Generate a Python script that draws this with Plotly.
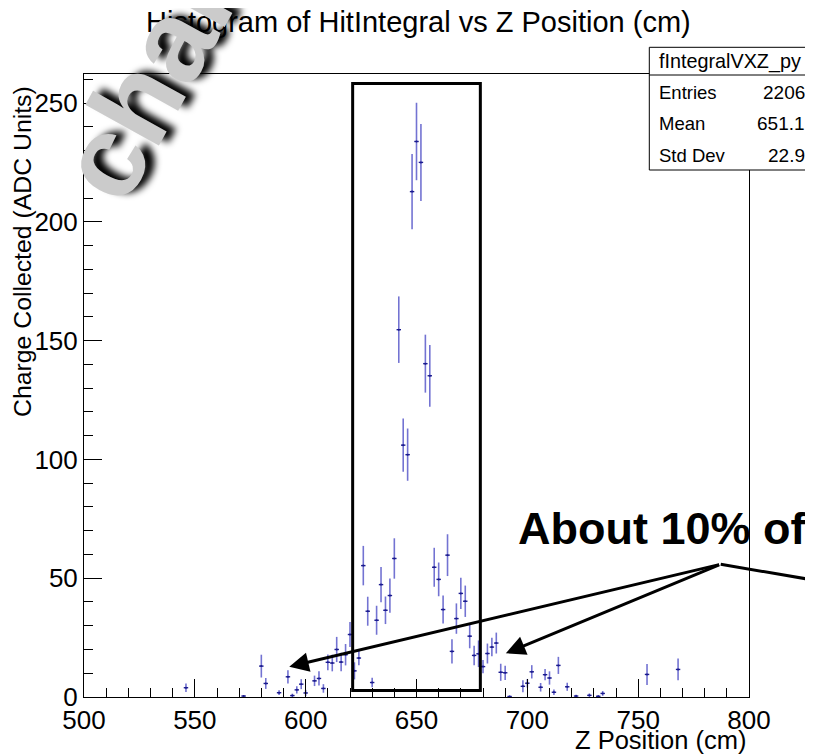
import plotly.graph_objects as go

# ---------------- data ----------------
z_centers = [546, 572, 580, 582, 588, 592, 594, 596, 598, 600,
             604, 606, 608, 610, 612, 614, 616, 618, 620, 622,
             624, 626, 628, 630, 632, 634, 636, 638, 640, 642,
             644, 646, 648, 650, 652, 654, 656, 658, 660, 662,
             664, 666, 668, 670, 672, 674, 676, 678, 680, 682,
             684, 686, 688, 690, 692, 698, 700, 702, 706, 708,
             710, 712, 714, 718, 722, 728, 732, 734, 754, 768]
charge = [3.9, 0.4, 13.0, 5.7, 1.8, 8.5, 0.6, 3.0, 5.4, 1.7,
          6.8, 7.8, 3.6, 14.6, 14.3, 20.0, 14.7, 17.8, 26.3, 11.0,
          16.4, 55.3, 36.1, 6.1, 32.3, 47.3, 36.5, 42.7, 58.3, 154.6,
          106.0, 102.0, 212.7, 233.8, 225.0, 140.3, 135.2, 54.6, 49.5, 36.8,
          59.7, 19.2, 33.0, 43.6, 40.3, 25.6, 17.5, 18.2, 12.8, 18.3,
          21.0, 22.7, 10.4, 10.2, 0.2, 4.5, 5.8, 10.6, 4.1, 9.4,
          8.0, 2.0, 13.3, 4.3, 0.4, 0.7, 0.3, 1.5, 9.5, 11.6]
charge_err = [1.8, 0.4, 4.8, 2.3, 1.0, 2.8, 0.8, 1.5, 2.1, 1.3,
              2.2, 3.0, 1.8, 3.3, 3.5, 5.3, 3.9, 4.5, 5.3, 3.6,
              3.0, 8.3, 6.1, 2.0, 6.1, 7.4, 5.8, 7.2, 8.5, 14.0,
              11.2, 11.0, 15.8, 16.3, 16.2, 12.2, 13.0, 8.2, 7.1, 5.9,
              8.8, 5.1, 6.4, 6.6, 6.6, 5.1, 4.1, 5.6, 2.8, 4.2,
              3.9, 4.4, 3.6, 3.0, 0.4, 2.5, 1.8, 2.8, 1.8, 2.4,
              2.8, 1.2, 3.6, 1.7, 0.5, 0.8, 0.4, 1.0, 4.4, 4.6]
bin_half_width = 1.0

title_text = "Histogram of HitIntegral vs Z Position (cm)"
x_title = "Z Position (cm)"
y_title = "Charge Collected (ADC Units)"
stats_name = "fIntegralVXZ_py"
stats_labels = ["Entries", "Mean", "Std Dev"]
stats_values = ["2206", "651.1", "22.9"]
callout_text = "About 10% of"
watermark_text = "chal"

# selection box and arrows (data coordinates)
box_x = [621.2, 678.8]
box_y = [2.7, 258.2]
arrow_from = (787.2, 55.85)
arrow_tips = [(592.6, 12.75), (690.3, 18.4)]

# ---------------- layout geometry ----------------
# the page body adds an 8px offset, so the figure is 8px smaller than the window
OFF = 8
W, H = 813 - OFF, 754 - OFF
L, R, T, B = 76, 64, 66, 57
PW, PH = W - L - R, H - T - B


def px(xs):  # screen x -> paper x
    return (xs - OFF - L) / PW


def py(ys):  # screen y -> paper y
    return (H - B - (ys - OFF)) / PH


FONT = "Liberation Sans"

fig = go.Figure()
fig.add_trace(go.Scatter(
    x=z_centers, y=charge, mode="markers",
    marker=dict(size=2, color="#1b1b8f"),
    error_y=dict(type="data", array=charge_err, color="#7373d2",
                 thickness=1.6, width=0),
    error_x=dict(type="constant", value=bin_half_width, color="#1b1b8f",
                 thickness=1.4, width=0),
    showlegend=False, hoverinfo="x+y",
))

axis_common = dict(
    showline=True, linecolor="black", linewidth=1, mirror=True,
    showgrid=False, zeroline=False,
    ticks="inside", ticklen=18, tickwidth=1, tickcolor="black",
    tickfont=dict(family=FONT, size=26, color="black"),
)
fig.update_xaxes(range=[500, 800], tick0=500, dtick=50,
                 minor=dict(dtick=10, ticklen=9, ticks="inside",
                            tickcolor="black", tickwidth=1),
                 **axis_common)
fig.update_yaxes(range=[0, PH / 2.376], tick0=0, dtick=50,
                 minor=dict(dtick=10, ticklen=9, ticks="inside",
                            tickcolor="black", tickwidth=1),
                 **axis_common)

shapes = [
    dict(type="rect", xref="x", yref="y", x0=box_x[0], x1=box_x[1],
         y0=box_y[0], y1=box_y[1], line=dict(color="black", width=3)),
    dict(type="line", xref="paper", yref="paper",
         x0=px(720.7), y0=py(564.3), x1=px(900), y1=py(594.8),
         line=dict(color="black", width=3)),
    # stats box
    dict(type="rect", xref="paper", yref="paper",
         x0=px(649.3), x1=px(830), y0=py(170), y1=py(47.3),
         line=dict(color="black", width=1), fillcolor="white"),
    dict(type="line", xref="paper", yref="paper",
         x0=px(649.3), x1=px(830), y0=py(75), y1=py(75),
         line=dict(color="black", width=1)),
]

annotations = [
    dict(text=title_text, xref="paper", yref="paper", x=px(418), y=py(22),
         xanchor="center", yanchor="middle", showarrow=False,
         font=dict(family=FONT, size=29, color="black")),
    dict(text=x_title, xref="paper", yref="paper", x=px(748), y=py(740),
         xanchor="right", yanchor="middle", showarrow=False,
         font=dict(family=FONT, size=25.5, color="black")),
    dict(text=y_title, xref="paper", yref="paper", x=px(22), y=py(252),
         xanchor="center", yanchor="middle", showarrow=False, textangle=-90,
         font=dict(family=FONT, size=24.8, color="black")),
    dict(text=stats_name, xref="paper", yref="paper", x=px(730), y=py(62),
         xanchor="center", yanchor="middle", showarrow=False,
         font=dict(family=FONT, size=19.8, color="black")),
]
for lab, val, yy in zip(stats_labels, stats_values, [92.7, 123.3, 155]):
    annotations.append(dict(text=lab, xref="paper", yref="paper", x=px(657),
                            y=py(yy), xanchor="left", yanchor="middle",
                            showarrow=False,
                            font=dict(family=FONT, size=18.5, color="black")))
    annotations.append(dict(text=val, xref="paper", yref="paper", x=px(807),
                            y=py(yy), xanchor="right", yanchor="middle",
                            showarrow=False,
                            font=dict(family=FONT, size=19, color="black")))

for tx, ty in arrow_tips:
    annotations.append(dict(x=tx, y=ty, xref="x", yref="y",
                            ax=arrow_from[0], ay=arrow_from[1],
                            axref="x", ayref="y", text="", showarrow=True,
                            arrowhead=2, arrowsize=1.3, arrowwidth=3,
                            arrowcolor="black", standoff=0))

annotations.append(dict(text="<b>" + callout_text + "</b>", xref="paper",
                        yref="paper", x=px(516), y=py(528), xanchor="left",
                        yanchor="middle", showarrow=False,
                        font=dict(family=FONT, size=45, color="black")))

annotations.append(dict(text="<b>" + watermark_text + "</b>", xref="paper",
                        yref="paper", x=px(145), y=py(88), xanchor="center",
                        yanchor="middle", showarrow=False, textangle=-61,
                        font=dict(family=FONT, size=116, color="#cbcbcb",
                                  shadow="7px 7px 7px #000000")))

fig.update_layout(
    width=W, height=H,
    margin=dict(l=L, r=R, t=T, b=B),
    paper_bgcolor="white", plot_bgcolor="white",
    shapes=shapes, annotations=annotations,
    showlegend=False,
)

fig.write_html("out.html")
